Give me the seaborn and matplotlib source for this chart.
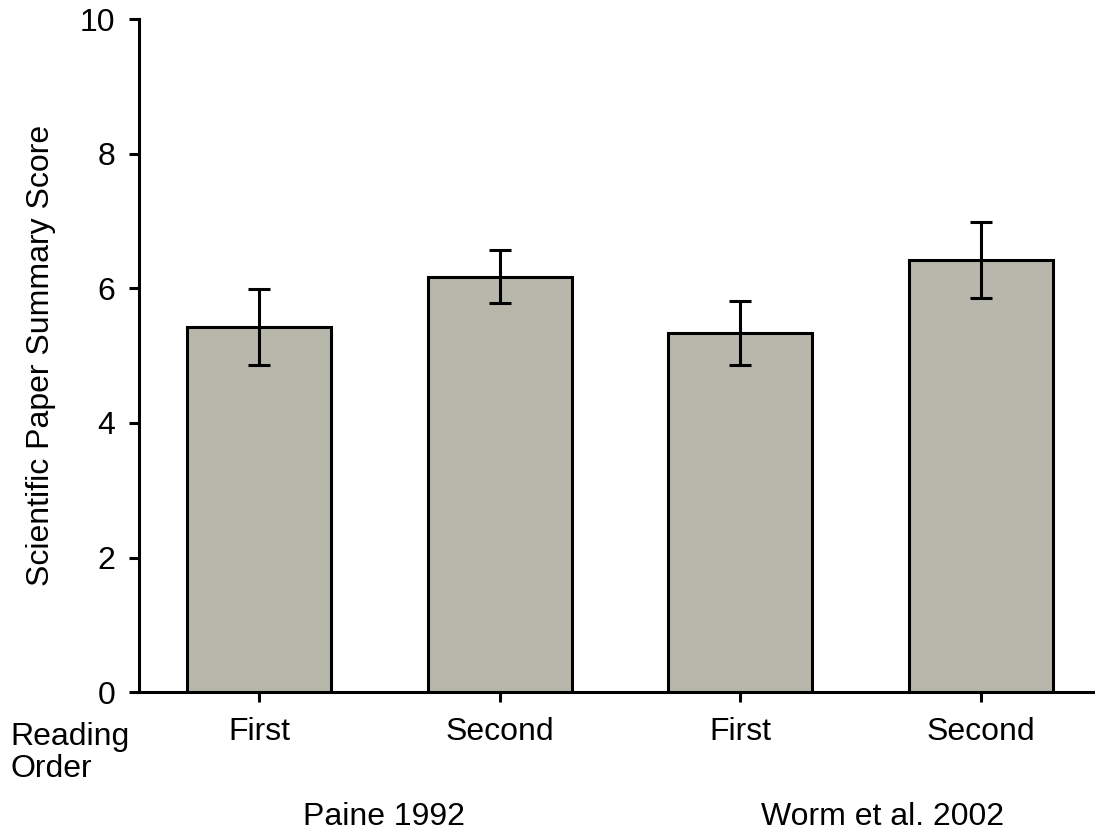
import matplotlib
matplotlib.use("Agg")
import matplotlib.pyplot as plt
import matplotlib.transforms as mtransforms
import seaborn as sns
import pandas as pd

# ---- data ----
conditions = ["Paine First", "Paine Second", "Worm First", "Worm Second"]
order_labels = ["First", "Second", "First", "Second"]
group_labels = ["Paine 1992", "Worm et al. 2002"]
means = [5.42, 6.17, 5.34, 6.42]
errors = [0.565, 0.395, 0.475, 0.56]
yticks = [0, 2, 4, 6, 8, 10]

sns.set_style("ticks")
plt.rcParams["font.family"] = ["Liberation Sans", "DejaVu Sans"]
plt.rcParams["text.color"] = "black"
plt.rcParams["axes.labelcolor"] = "black"

df = pd.DataFrame({"condition": conditions, "score": means})

fig = plt.figure(figsize=(10.95, 8.32), dpi=100)
ax = fig.add_axes([139 / 1095, (832 - 692.3) / 832, 956 / 1095, (692.3 - 19) / 832])

sns.barplot(data=df, x="condition", y="score", order=conditions, color="#b7b7ab",
            saturation=1, width=0.6, edgecolor="black", linewidth=2.2,
            errorbar=None, ax=ax)
ax.errorbar(x=list(range(len(means))), y=means, yerr=errors, fmt="none",
            ecolor="black", elinewidth=2.2, capsize=8, capthick=2.2, zorder=5)

ax.set_ylim(0, 10)
ax.set_xlim(-0.5, 3.475)
ax.set_yticks(yticks)
ax.set_yticklabels([str(t) for t in yticks])
ax.set_xticks(range(len(order_labels)))
ax.set_xticklabels(order_labels)
ax.set_xlabel("")
ax.set_ylabel("Scientific Paper Summary Score", fontsize=23)
ax.yaxis.set_label_coords(-0.087, 0.5)

for s in ["top", "right"]:
    ax.spines[s].set_visible(False)
for s in ["left", "bottom"]:
    ax.spines[s].set_linewidth(2.2)
    ax.spines[s].set_color("black")
ax.tick_params(axis="both", direction="out", length=7, width=2.2, colors="black",
               labelsize=23)
ax.tick_params(axis="y", pad=10)
ax.tick_params(axis="x", pad=11)

fig.text(10 / 1095, (832 - 753) / 832, "Reading\nOrder", ha="left", va="center",
         fontsize=23, linespacing=1.08)

trans = mtransforms.blended_transform_factory(ax.transData, fig.transFigure)
ax.text(0.52, (832 - 825) / 832, group_labels[0], transform=trans, ha="center",
        va="baseline", fontsize=23)
ax.text(2.59, (832 - 825) / 832, group_labels[1], transform=trans, ha="center",
        va="baseline", fontsize=23)

fig.savefig("out.png", dpi=100)
